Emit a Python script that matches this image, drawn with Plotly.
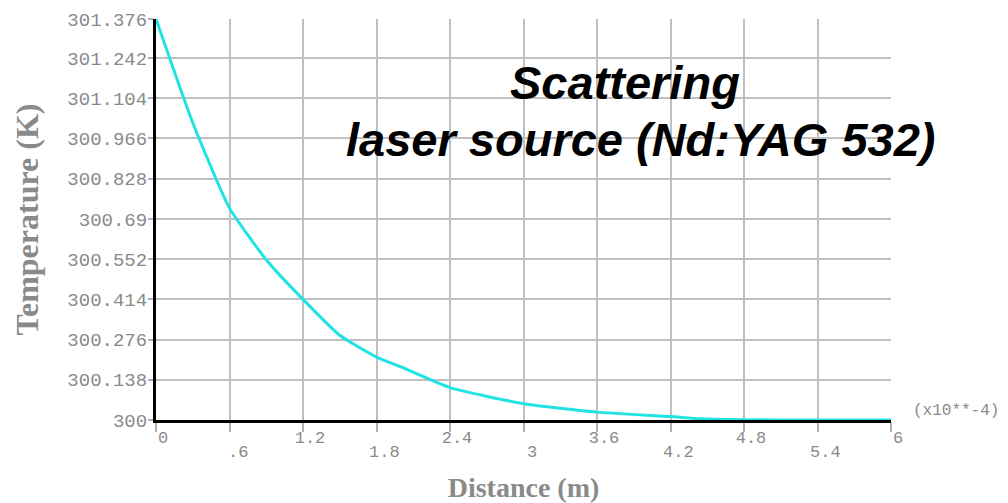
import plotly.graph_objects as go

# Data
distance = [0.0, 0.3, 0.6, 0.9, 1.2, 1.5, 1.8, 2.0, 2.4, 3.0, 3.6, 4.2, 4.44, 4.8, 5.4, 6.0]
temperature = [301.376, 301.02, 300.727, 300.55, 300.414, 300.291, 300.216, 300.182,
               300.111, 300.056, 300.027, 300.012, 300.004, 300.001, 300.0, 300.0]

y_tick_vals = [300, 300.138, 300.276, 300.414, 300.552, 300.69, 300.828,
               300.966, 301.104, 301.242, 301.376]
y_tick_text = ["300", "300.138", "300.276", "300.414", "300.552", "300.69",
               "300.828", "300.966", "301.104", "301.242", "301.376"]
x_tick_vals = [0, 0.6, 1.2, 1.8, 2.4, 3.0, 3.6, 4.2, 4.8, 5.4, 6.0]
x_tick_text = ["0", ".6", "1.2", "1.8", "2.4", "3", "3.6", "4.2", "4.8", "5.4", "6"]

mono = "Liberation Mono, Courier New, monospace"
serif = "Liberation Serif, Times New Roman, serif"
sans = "Liberation Sans, Arial, sans-serif"
grey = "#8a8a8a"

# upper row labels on the axis itself, lower row as annotations
upper_text = [t if i % 2 == 0 else "" for i, t in enumerate(x_tick_text)]
lower = [(v, t) for i, (v, t) in enumerate(zip(x_tick_vals, x_tick_text)) if i % 2 == 1]

fig = go.Figure()
fig.add_trace(go.Scatter(
    x=distance, y=temperature, mode="lines",
    line=dict(color="#22E3E3", width=3, shape="spline", smoothing=0.5),
    cliponaxis=False, showlegend=False,
))

annotations = [
    dict(text="<b><i>Scattering</i></b>", xref="paper", yref="paper",
         x=(625 - 156) / 735, y=(420 - 82) / 401, showarrow=False,
         font=dict(family=sans, size=47, color="black"),
         xanchor="center", yanchor="middle"),
    dict(text="<b><i>laser source (Nd:YAG 532)</i></b>", xref="paper", yref="paper",
         x=(640 - 156) / 735, y=(420 - 139) / 401, showarrow=False,
         font=dict(family=sans, size=47, color="black"),
         xanchor="center", yanchor="middle"),
    dict(text="(x10**-4)", xref="paper", yref="paper",
         x=(911 - 156) / 735, y=(420 - 411) / 401, showarrow=False,
         font=dict(family=mono, size=16, color=grey),
         xanchor="left", yanchor="middle"),
]
for v, t in lower:
    annotations.append(dict(text=t, x=v, xref="x", y=0, yref="paper",
                            showarrow=False, xanchor="center", yanchor="middle",
                            xshift=8, yshift=-32,
                            font=dict(family=mono, size=17, color=grey)))

# the page body has an 8px margin, so the figure is made 8px smaller and shifted
fig.update_layout(
    width=1000, height=495,
    margin=dict(l=148, r=117, t=11, b=83),
    paper_bgcolor="white", plot_bgcolor="white",
    xaxis=dict(
        range=[0, 6], tickvals=x_tick_vals, ticktext=upper_text,
        showgrid=True, gridcolor="#c0c0c0", gridwidth=1.5,
        showline=True, linecolor="black", linewidth=3,
        ticks="outside", ticklen=9, tickcolor="#b0b0b0", tickwidth=1.5,
        tickfont=dict(family=mono, size=17, color=grey),
        ticklabelshift=7, ticklabelstandoff=-9,
        zeroline=False, layer="below traces", automargin=False,
        title=dict(text="<b>Distance (m)</b>", font=dict(family=serif, size=28, color=grey),
                   standoff=36),
    ),
    yaxis=dict(
        range=[300, 301.376], tickvals=y_tick_vals, ticktext=y_tick_text,
        showgrid=True, gridcolor="#c0c0c0", gridwidth=1.5,
        showline=True, linecolor="black", linewidth=3,
        ticks="outside", ticklen=5, tickcolor="#b0b0b0", tickwidth=1.5,
        tickfont=dict(family=mono, size=19, color=grey),
        ticklabelstandoff=-3,
        zeroline=False, layer="below traces", automargin=False,
        title=dict(text="<b>Temperature (K)</b>", font=dict(family=serif, size=32, color=grey),
                   standoff=20),
    ),
    annotations=annotations,
)

fig.write_html("out.html")
